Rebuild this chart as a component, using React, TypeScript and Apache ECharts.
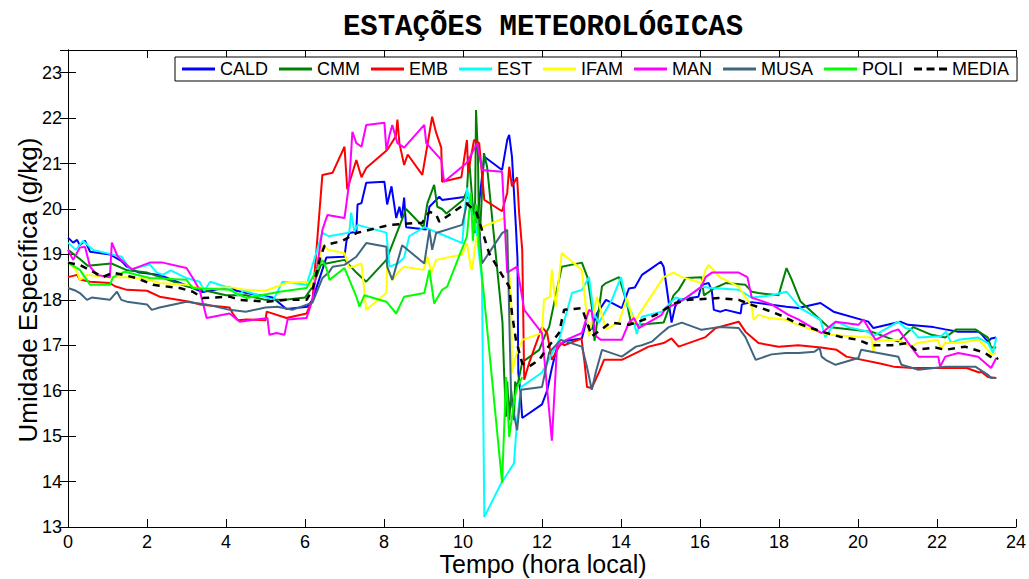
import React, { useEffect, useRef } from "react";
import * as echarts from "echarts";

// [hora local, umidade específica g/kg]
const CALD: number[][] = [[0,19.37],[0.13,19.26],[0.23,19.32],[0.3,19.2],[0.43,19.3],[0.56,19.06],[1.06,19.0],[1.36,18.85],[1.49,18.73],[1.8,18.6],[2.32,18.55],[3.16,18.26],[3.41,18.17],[4.09,18.28],[4.27,18.2],[4.52,18.15],[5.18,18.05],[5.53,17.8],[6.06,17.85],[6.19,18.0],[6.54,18.93],[7.0,18.95],[7.05,19.3],[7.12,19.47],[7.3,19.5],[7.33,20.1],[7.43,20.13],[7.55,20.58],[8.01,20.6],[8.08,20.1],[8.19,20.5],[8.31,19.8],[8.39,20.05],[8.45,19.8],[8.51,20.25],[8.56,19.6],[9.07,19.55],[9.15,20.05],[9.4,20.27],[9.47,20.2],[10.08,20.27],[10.21,20.2],[10.28,19.8],[10.35,19.7],[10.54,21.15],[10.99,20.86],[11.12,21.52],[11.17,21.63],[11.24,21.15],[11.34,19.6],[11.38,18.9],[11.4,16.4],[11.45,16.0],[11.5,15.4],[12.0,15.7],[12.13,16.0],[12.25,16.5],[12.38,16.95],[12.61,17.1],[13.01,17.15],[13.11,17.5],[13.26,17.35],[13.39,17.7],[13.62,18.0],[14.02,17.82],[14.2,18.25],[14.35,18.27],[14.53,18.55],[14.78,18.7],[15.01,18.84],[15.08,18.73],[15.16,18.25],[15.28,17.5],[15.37,17.85],[15.46,18.0],[15.96,18.07],[16.04,18.33],[16.22,18.37],[16.3,18.2],[16.35,17.78],[16.52,17.74],[16.65,17.78],[17.03,17.7],[17.06,17.9],[17.31,17.95],[18.19,17.85],[18.49,17.82],[19.05,17.93],[19.38,17.74],[20.26,17.52],[20.39,17.38],[21.07,17.52],[21.27,17.45],[21.91,17.4],[22.21,17.35],[22.54,17.3],[23.05,17.3],[23.12,17.25],[23.29,17.08],[23.37,17.15],[23.5,17.17]];

const CMM: number[][] = [[0,19.1],[0.3,18.9],[0.5,18.75],[1.1,18.8],[1.5,18.65],[2,18.6],[2.5,18.45],[3,18.3],[3.5,18.2],[4,18.1],[4.5,18.1],[5,18.0],[5.5,18.0],[6,18.05],[6.2,18.3],[6.4,18.77],[6.54,18.8],[7.0,18.88],[7.3,18.6],[7.55,18.4],[8.06,18.88],[8.56,20.0],[9.0,19.6],[9.1,20.13],[9.27,20.53],[9.35,20.05],[9.47,20.0],[9.58,19.9],[10.0,20.2],[10.1,20.4],[10.15,21.15],[10.3,19.47],[10.33,22.18],[10.38,21.15],[10.41,19.1],[10.53,21.23],[10.61,20.93],[11.0,17.5],[11.04,16.4],[11.09,15.43],[11.12,16.2],[11.17,15.35],[11.22,16.0],[11.29,15.35],[11.32,16.2],[11.37,16.08],[11.5,16.63],[11.93,16.9],[12.1,17.27],[12.18,17.4],[12.5,18.73],[13.01,18.82],[13.15,18.5],[13.26,17.85],[13.33,17.1],[13.52,18.3],[13.62,18.37],[13.95,18.5],[14.15,17.93],[14.25,17.5],[14.45,17.45],[15.08,17.5],[15.33,18.1],[15.46,18.22],[15.64,18.48],[16.04,18.5],[16.1,18.1],[16.35,18.25],[16.65,18.37],[17.15,18.33],[17.31,18.18],[17.48,18.15],[17.99,18.1],[18.19,18.7],[18.32,18.45],[18.54,17.97],[19.0,17.6],[19.25,17.4],[20.34,17.3],[21.02,17.08],[21.27,17.3],[21.4,17.4],[21.86,17.23],[22.21,17.17],[22.49,17.35],[22.97,17.35],[23.29,17.17],[23.37,16.95],[23.5,16.95]];

const EMB: number[][] = [[0,18.5],[0.23,18.55],[0.3,18.45],[0.56,18.4],[1.06,18.37],[1.19,18.3],[1.49,18.22],[2.0,18.2],[2.32,18.07],[3.08,17.96],[3.33,17.9],[4.09,17.83],[4.17,17.7],[4.3,17.55],[4.52,17.57],[5.0,17.55],[5.03,17.74],[5.53,17.6],[6.04,17.7],[6.19,18.0],[6.44,20.75],[6.7,20.8],[7.0,21.37],[7.07,20.43],[7.3,21.08],[7.43,20.7],[7.55,20.9],[8.08,21.3],[8.3,21.6],[8.34,21.97],[8.39,21.45],[8.51,20.97],[8.6,21.2],[8.97,20.75],[9.22,22.03],[9.32,21.68],[9.45,21.35],[9.47,20.6],[9.96,20.7],[10.1,21.52],[10.13,20.8],[10.28,21.52],[10.41,21.45],[10.54,20.2],[10.99,19.95],[11.12,20.36],[11.17,20.93],[11.24,20.5],[11.37,20.7],[11.42,19.92],[11.5,19.1],[11.55,16.24],[11.67,16.6],[12.0,17.4],[12.13,17.27],[12.25,16.68],[12.48,17.05],[12.56,17.0],[13.0,17.15],[13.08,16.6],[13.14,16.08],[13.26,16.06],[13.44,16.4],[13.57,16.68],[14.02,16.68],[14.45,16.86],[14.7,16.97],[15.08,17.05],[15.28,17.15],[15.46,16.97],[16.14,17.18],[16.4,17.38],[16.98,17.52],[17.15,17.3],[17.48,17.05],[17.99,16.97],[18.49,17.0],[19.06,16.95],[19.46,16.9],[19.71,16.75],[20.56,16.6],[20.9,16.53],[21.4,16.5],[21.9,16.5],[22.75,16.5],[23.07,16.4],[23.12,16.42],[23.29,16.3],[23.5,16.28]];

const EST: number[][] = [[0,19.26],[0.2,19.1],[0.38,19.3],[0.63,19.1],[1.36,18.95],[1.57,18.67],[2.07,18.78],[2.25,18.6],[2.4,18.55],[2.6,18.65],[3.0,18.48],[3.33,18.4],[3.45,18.2],[3.6,18.4],[4.09,18.26],[4.3,18.1],[4.45,18.2],[5.03,18.05],[5.2,18.0],[5.43,18.4],[6.04,18.33],[6.44,19.48],[6.6,19.4],[7.12,19.48],[7.17,19.92],[7.25,19.5],[7.33,19.65],[8.06,19.48],[8.14,18.73],[8.35,18.8],[8.51,18.93],[8.64,19.4],[9.02,19.6],[9.3,19.5],[9.57,19.4],[9.98,19.25],[10.1,20.47],[10.2,20.0],[10.33,19.6],[10.48,18.44],[10.54,13.22],[10.97,13.97],[11.29,14.4],[11.37,15.35],[11.47,16.08],[12.0,16.4],[12.35,16.97],[12.43,17.12],[12.76,18.15],[13.01,18.22],[13.19,18.5],[13.31,17.7],[13.44,17.5],[13.77,18.0],[14.0,18.5],[14.15,17.9],[14.28,17.7],[14.4,17.25],[14.53,17.63],[15.03,17.74],[15.38,18.05],[15.6,18.0],[16.04,18.29],[16.3,18.26],[16.98,18.22],[17.31,18.05],[17.81,18.1],[18.19,18.18],[18.54,17.82],[19.05,17.56],[19.17,17.18],[19.3,17.35],[19.45,17.52],[19.76,17.4],[20.26,17.3],[20.39,17.2],[21.02,17.52],[21.2,17.38],[21.35,17.35],[21.53,17.17],[22.1,17.2],[22.23,17.3],[22.36,17.05],[22.54,17.12],[23.04,17.17],[23.29,17.05],[23.42,16.83],[23.5,17.17]];

const IFAM: number[][] = [[0,18.84],[0.23,18.62],[0.3,18.44],[0.48,18.55],[1.0,18.5],[1.49,18.5],[2.0,18.45],[2.32,18.37],[3.0,18.33],[3.5,18.25],[4.09,18.28],[4.52,18.22],[5.0,18.2],[5.53,18.37],[6.04,18.4],[6.19,18.28],[6.44,19.2],[6.6,19.1],[7.0,19.03],[7.12,18.7],[7.43,18.8],[7.55,17.78],[8.06,18.15],[8.08,18.73],[8.21,18.44],[8.35,18.6],[8.51,18.73],[9.0,18.66],[9.1,18.95],[9.2,18.6],[9.32,18.88],[9.98,19.0],[10.1,19.25],[10.2,18.7],[10.23,18.66],[10.33,19.32],[10.48,19.6],[11.04,19.8],[11.12,19.2],[11.22,18.0],[11.24,16.4],[11.35,16.8],[11.5,17.12],[12.0,17.27],[12.05,18.0],[12.2,18.07],[12.25,18.66],[12.35,17.85],[12.5,19.03],[13.01,18.66],[13.19,17.2],[13.39,18.07],[13.62,17.35],[13.95,17.52],[14.15,18.04],[14.33,17.5],[14.45,17.67],[15.08,18.5],[15.33,18.6],[15.54,18.5],[16.04,18.37],[16.14,18.66],[16.22,18.77],[16.5,18.5],[16.98,18.29],[17.31,17.85],[17.36,17.56],[17.48,17.67],[17.74,17.6],[18.17,17.56],[18.49,17.45],[19.08,17.27],[19.33,17.23],[20.01,17.18],[20.34,17.17],[20.39,16.86],[20.45,17.1],[21.02,17.12],[21.35,16.97],[21.5,17.05],[22.03,17.12],[22.1,16.9],[22.2,17.05],[22.54,17.05],[23.04,17.12],[23.2,17.0],[23.37,16.8],[23.5,16.83]];

const MAN: number[][] = [[0,19.1],[0.13,18.88],[0.3,19.15],[0.43,19.17],[0.56,18.73],[0.73,18.55],[1.06,18.5],[1.11,19.26],[1.26,18.95],[1.62,18.67],[2.07,18.82],[2.4,18.82],[3.0,18.7],[3.16,18.48],[3.33,18.22],[3.51,17.6],[4.09,17.7],[4.35,17.52],[5.05,17.6],[5.1,17.23],[5.28,17.27],[5.48,17.23],[5.56,17.57],[6.04,17.6],[6.19,18.0],[6.44,19.54],[6.57,19.87],[7.0,19.8],[7.12,20.58],[7.2,21.7],[7.3,21.45],[7.43,21.37],[7.55,21.85],[8.01,21.9],[8.06,21.3],[8.14,21.63],[8.21,21.85],[8.34,21.45],[8.51,21.35],[9.02,21.85],[9.07,21.45],[9.45,21.08],[9.52,20.6],[10.1,21.02],[10.36,21.45],[10.48,20.86],[10.99,20.82],[11.12,18.6],[11.37,18.73],[11.55,17.78],[12.0,17.27],[12.25,14.9],[12.38,16.97],[12.61,17.12],[13.01,17.27],[13.19,17.78],[13.26,17.74],[13.37,17.2],[13.49,17.12],[14.02,17.12],[14.2,17.5],[14.33,17.6],[14.45,17.38],[15.03,17.67],[15.13,17.82],[15.46,17.93],[16.04,18.29],[16.14,18.5],[16.3,18.6],[16.65,18.6],[16.98,18.6],[17.2,18.5],[17.31,18.05],[17.81,17.9],[18.24,17.67],[18.49,17.57],[19.08,17.27],[19.43,17.52],[20.01,17.45],[20.14,17.57],[20.44,17.12],[20.85,17.3],[21.02,17.35],[21.53,16.75],[22.03,16.75],[22.08,16.53],[22.21,16.75],[22.54,16.83],[23.04,16.75],[23.37,16.5],[23.5,16.72]];

const MUSA: number[][] = [[0,18.26],[0.2,18.2],[0.3,18.15],[0.48,18.0],[0.6,18.05],[1.06,18.0],[1.24,18.18],[1.35,18.0],[1.49,17.96],[2.0,17.9],[2.12,17.78],[2.32,17.83],[3.0,17.96],[3.5,17.9],[4.09,17.78],[4.5,17.74],[5.0,17.83],[5.3,17.85],[5.68,17.78],[6.19,17.94],[6.44,18.48],[6.6,18.6],[6.7,18.73],[7.0,18.77],[7.3,18.95],[7.55,19.25],[8.06,19.17],[8.08,18.73],[8.21,18.44],[8.46,19.2],[9.02,18.8],[9.15,19.54],[9.22,19.1],[9.32,19.47],[9.98,19.65],[10.1,20.13],[10.23,20.15],[10.41,19.6],[10.48,18.8],[10.99,19.47],[11.12,19.54],[11.22,15.8],[11.37,15.13],[11.47,16.02],[12.0,16.08],[12.18,16.84],[12.48,17.12],[13.01,16.97],[13.14,16.52],[13.26,16.02],[13.36,16.4],[13.52,16.9],[14.02,16.75],[14.38,16.97],[14.53,17.0],[14.78,17.08],[15.03,17.27],[15.21,17.4],[15.54,17.5],[16.04,17.34],[16.47,17.4],[16.98,17.38],[17.15,17.18],[17.41,16.68],[17.81,16.8],[18.17,16.83],[18.5,16.83],[18.9,16.86],[19.03,16.94],[19.08,16.75],[19.18,16.68],[19.43,16.57],[20.01,16.72],[20.08,16.9],[20.34,16.86],[21.02,16.75],[21.1,16.57],[21.53,16.46],[22.21,16.53],[22.97,16.53],[23.29,16.35],[23.37,16.28],[23.5,16.28]];

const POLI: number[][] = [[0,18.82],[0.3,18.66],[0.56,18.33],[1.06,18.33],[1.14,18.5],[1.44,18.62],[2.07,18.48],[3.0,18.44],[3.16,18.26],[4.09,18.22],[4.52,18.04],[5.36,18.18],[6.04,18.26],[6.44,18.88],[6.54,18.7],[6.62,18.44],[7.0,18.7],[7.3,18.07],[7.38,17.85],[7.5,18.1],[8.06,17.96],[8.31,17.7],[8.51,18.07],[9.02,18.15],[9.15,18.66],[9.27,17.92],[9.47,18.22],[9.6,18.29],[10.1,19.4],[10.2,20.36],[10.25,19.3],[10.33,20.1],[10.41,19.17],[10.99,13.97],[11.09,16.3],[11.17,14.98],[11.3,15.8],[11.37,16.08],[11.5,16.3]];

const MEDIA: number[][] = [[0,18.82],[0.3,18.77],[0.63,18.62],[0.88,18.5],[1.14,18.6],[1.74,18.48],[2.15,18.33],[2.83,18.26],[3.16,18.18],[3.41,18.04],[4.09,18.07],[4.35,18.0],[5.03,17.96],[5.53,18.0],[6.04,18.0],[6.19,18.22],[6.39,18.95],[6.5,19.2],[6.95,19.3],[7.3,19.47],[8.14,19.65],[8.97,19.7],[9.15,19.94],[9.32,19.88],[9.4,19.72],[10.08,20.13],[10.33,19.94],[10.48,19.54],[10.66,19.03],[10.91,18.66],[11.17,18.29],[11.24,17.7],[11.34,17.12],[11.5,16.6],[11.67,16.53],[11.93,16.68],[12.1,16.9],[12.43,17.27],[12.56,17.78],[13.01,17.82],[13.14,17.5],[13.26,17.2],[13.49,17.34],[13.74,17.5],[14.2,17.45],[14.45,17.52],[14.88,17.67],[15.38,17.93],[15.71,18.0],[16.47,18.04],[16.98,18.0],[17.31,17.89],[17.81,17.74],[18.12,17.63],[18.42,17.5],[19.08,17.3],[19.58,17.18],[20.01,17.12],[20.34,17.0],[20.85,17.0],[21.27,17.05],[21.45,16.9],[21.96,16.95],[22.21,16.9],[22.71,16.97],[23.22,16.83],[23.47,16.68],[23.55,16.72]];

const STATIONS = ["CALD", "CMM", "EMB", "EST", "IFAM", "MAN", "MUSA", "POLI", "MEDIA"];
const SERIES_DATA = [CALD, CMM, EMB, EST, IFAM, MAN, MUSA, POLI, MEDIA];
const COLORS = ["#0000ff", "#008000", "#ff0000", "#00ffff", "#ffff00", "#ff00ff", "#40667f", "#00ff00", "#000000"];

const TITLE = "ESTAÇÕES METEOROLÓGICAS";
const X_NAME = "Tempo (hora local)";
const Y_NAME = "Umidade Específica (g/kg)";

const SANS = "'Liberation Sans', Arial, Helvetica, sans-serif";
const SOLID_ICON = "path://M0,0h33v3h-33z";
const DASH_ICON = "path://M0,0h8v3h-8z M12.5,0h8v3h-8z M25,0h8v3h-8z";

export default function App() {
  const ref = useRef<HTMLDivElement>(null);
  useEffect(() => {
    if (!ref.current) return;
    const chart = echarts.init(ref.current, undefined, { renderer: "svg" });
    const axisCommon = {
      axisLine: { show: true, lineStyle: { color: "#000", width: 1 } },
      axisTick: { show: true, inside: true, length: 8, lineStyle: { color: "#000", width: 1 } },
      splitLine: { show: false },
    };
    chart.setOption({
      animation: false,
      backgroundColor: "#fff",
      grid: { left: 68, right: 11, top: 50, bottom: 52, containLabel: false },
      legend: {
        data: STATIONS.map((n) => ({ name: n, icon: n === "MEDIA" ? DASH_ICON : SOLID_ICON })),
        left: 175,
        top: 57,
        padding: [3, 8, 3, 7],
        itemGap: 11,
        itemWidth: 33,
        itemHeight: 3,
        borderColor: "#000",
        borderWidth: 1,
        backgroundColor: "#fff",
        textStyle: { fontFamily: SANS, fontSize: 18, color: "#000", padding: [0, 0, 0, 0] },
      },
      xAxis: [
        {
          type: "value", min: 0, max: 24, interval: 2, position: "bottom",
          ...axisCommon,
          axisLabel: { color: "#000", fontFamily: SANS, fontSize: 18, margin: 6, lineHeight: 18 },
        },
        {
          type: "value", min: 0, max: 24, interval: 2, position: "top",
          ...axisCommon,
          axisLabel: { show: false },
        },
      ],
      yAxis: [
        {
          type: "value", min: 13, max: 23.5, interval: 1, position: "left",
          ...axisCommon,
          axisLabel: {
            color: "#000", fontFamily: SANS, fontSize: 18, margin: 6,
            formatter: (v: number) => (Number.isInteger(v) ? String(v) : ""),
          },
        },
        {
          type: "value", min: 13, max: 23.5, interval: 1, position: "right",
          ...axisCommon,
          axisLabel: { show: false },
        },
      ],
      graphic: [
        {
          type: "text", x: 543, y: 27,
          style: { text: TITLE, fill: "#000", font: "bold 29px 'Liberation Mono', 'Courier New', monospace", textAlign: "center", textVerticalAlign: "middle" },
        },
        {
          type: "text", x: 543, y: 564,
          style: { text: X_NAME, fill: "#000", font: `25px ${SANS}`, textAlign: "center", textVerticalAlign: "middle" },
        },
        {
          type: "text", x: 28, y: 290, rotation: Math.PI / 2,
          style: { text: Y_NAME, fill: "#000", font: `26px ${SANS}`, textAlign: "center", textVerticalAlign: "middle" },
        },
      ],
      series: STATIONS.map((name, i) => ({
        name,
        type: "line",
        data: SERIES_DATA[i],
        symbol: "none",
        showSymbol: false,
        xAxisIndex: 0,
        yAxisIndex: 0,
        color: COLORS[i],
        itemStyle: { color: COLORS[i] },
        lineStyle: name === "MEDIA"
          ? { color: COLORS[i], width: 2.5, type: [7, 6] }
          : { color: COLORS[i], width: 2 },
        z: 2 + i,
      })),
    });
    return () => chart.dispose();
  }, []);
  return <div ref={ref} style={{ position: "absolute", left: 0, top: 0, width: 1029, height: 579 }} />;
}
